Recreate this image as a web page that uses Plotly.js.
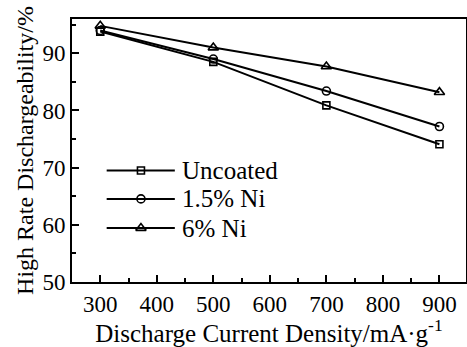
<!DOCTYPE html>
<html><head><meta charset="utf-8">
<script src="https://cdn.plot.ly/plotly-3.0.1.min.js"></script>
<style>html,body{margin:0;padding:0;background:#fff}#chart{width:467px;height:347px}</style>
</head><body><div id="chart"></div>
<script>
var currentDensity = [300, 500, 700, 900];
var seriesNames = ["Uncoated", "1.5% Ni", "6% Ni"];
var uncoated = [93.8, 88.5, 80.9, 74.1];
var ni15 = [94.0, 89.0, 83.4, 77.2];
var ni6 = [94.8, 91.0, 87.7, 83.2];
var xTicks = [300, 400, 500, 600, 700, 800, 900];
var yTicks = [50, 60, 70, 80, 90];

var seriesValues = [uncoated, ni15, ni6];
var symbols = ["square-open", "circle-open", "triangle-up-open"];
var sizes = [7, 8, 9];
var font = "Liberation Serif";

var traces = [];
seriesValues.forEach(function (vals, i) {
  traces.push({
    x: currentDensity, y: vals, type: "scatter", mode: "lines+markers",
    name: seriesNames[i], showlegend: false,
    line: {color: "#000", width: 2},
    marker: {symbol: symbols[i], size: sizes[i], color: "#000", line: {color: "#000", width: 1.6}}
  });
});
var legY = [0.424, 0.316, 0.205];
var annotations = [];
seriesNames.forEach(function (name, i) {
  traces.push({
    x: [0.088, 0.261], y: [legY[i], legY[i]],
    xaxis: "x2", yaxis: "y2", type: "scatter", mode: "lines",
    showlegend: false, hoverinfo: "skip",
    line: {color: "#000", width: 2}
  });
  traces.push({
    x: [0.175], y: [legY[i]],
    xaxis: "x2", yaxis: "y2", type: "scatter", mode: "markers",
    showlegend: false, hoverinfo: "skip",
    marker: {symbol: symbols[i], size: sizes[i], color: "#000", line: {color: "#000", width: 1.6}}
  });
  annotations.push({
    xref: "x2", yref: "y2", x: 0.274, y: legY[i], text: name, showarrow: false,
    xanchor: "left", yanchor: "middle", font: {family: font, size: 25, color: "#000"}
  });
});

var layout = {
  width: 467, height: 347,
  margin: {l: 72, r: 1, t: 19, b: 65},
  paper_bgcolor: "#fff", plot_bgcolor: "#fff",
  font: {family: font, size: 23, color: "#000"},
  showlegend: false,
  xaxis: {
    range: [250, 947], tickvals: xTicks, ticks: "inside", ticklen: 7, tickwidth: 2,
    tickcolor: "#000", showline: true, linewidth: 2, linecolor: "#000", mirror: true,
    showgrid: false, zeroline: false, tickfont: {family: font, size: 23, color: "#000"},
    minor: {dtick: 50, tick0: 250, ticks: "inside", ticklen: 4, tickwidth: 2, tickcolor: "#000", showgrid: false},
    title: {text: "Discharge Current Density/mA·g<sup>-1</sup>", font: {family: font, size: 25, color: "#000"}, standoff: 2}
  },
  yaxis: {
    range: [50, 96], tickvals: yTicks, ticks: "inside", ticklen: 7, tickwidth: 2,
    tickcolor: "#000", showline: true, linewidth: 2, linecolor: "#000", mirror: true,
    showgrid: false, zeroline: false, tickfont: {family: font, size: 23, color: "#000"},
    minor: {dtick: 5, tick0: 50, ticks: "inside", ticklen: 4, tickwidth: 2, tickcolor: "#000", showgrid: false},
    title: {text: "High Rate Dischargeability/%", font: {family: font, size: 24, color: "#000"}, standoff: 2}
  },
  xaxis2: {overlaying: "x", range: [0, 1], visible: false, fixedrange: true},
  yaxis2: {overlaying: "y", range: [0, 1], visible: false, fixedrange: true},
  annotations: annotations
};
Plotly.newPlot("chart", traces, layout, {staticPlot: true, displayModeBar: false});
</script></body></html>
